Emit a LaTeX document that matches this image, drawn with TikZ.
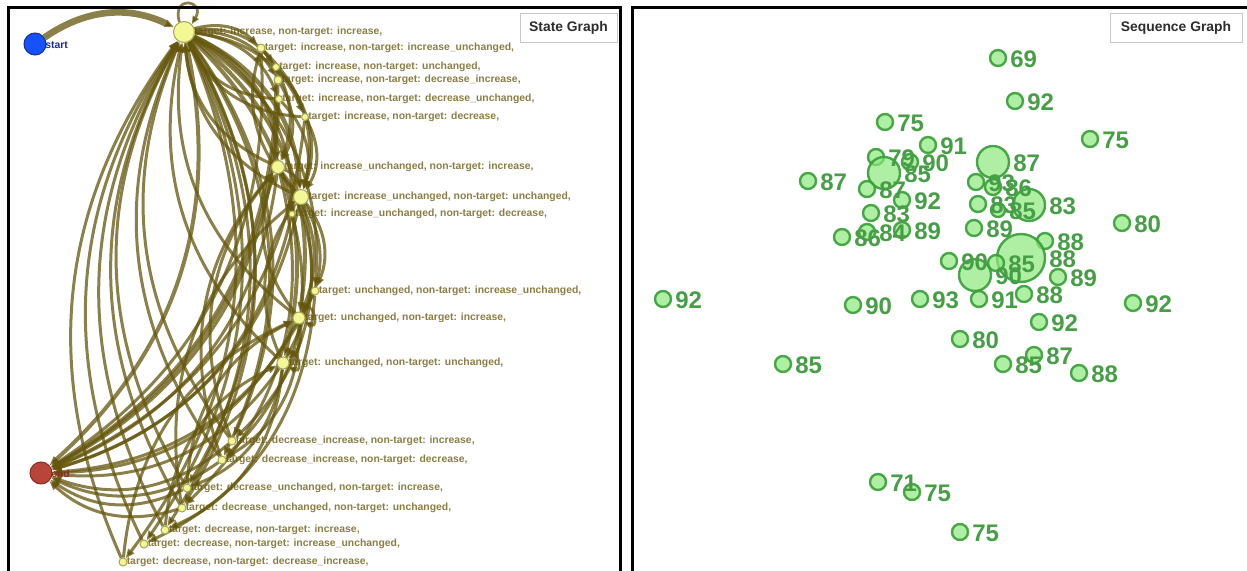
\documentclass[tikz,border=0pt]{standalone}
\usepackage{fontspec}
\setmainfont{Liberation Sans}
\usetikzlibrary{arrows.meta}
\usetikzlibrary{shadows}

\definecolor{edgeolive}{RGB}{100,86,12}
\definecolor{nodeyellow}{RGB}{243,247,150}
\definecolor{nodeline}{RGB}{165,165,80}
\definecolor{lbltext}{RGB}{138,126,70}
\definecolor{startblue}{RGB}{22,82,250}
\definecolor{startline}{RGB}{25,45,150}
\definecolor{stopred}{RGB}{185,68,58}
\definecolor{stopline}{RGB}{140,45,35}
\definecolor{seqfill}{RGB}{140,232,125}
\definecolor{seqline}{RGB}{55,158,55}
\definecolor{seqtext}{RGB}{70,158,70}
\definecolor{titletext}{RGB}{45,45,45}

\pgfdeclarelayer{textlayer}
\pgfdeclarelayer{edgelayer}
\pgfdeclarelayer{front}
\pgfsetlayers{textlayer,edgelayer,main,front}

\tikzset{
  panelframe/.style={line width=2.25pt, black},
  titlebox/.style={draw=black!22, fill=white, text=titletext, inner sep=0pt,
    font=\bfseries\fontsize{10.4}{12}\selectfont, minimum height=21.75pt,
    drop shadow={shadow xshift=0.8pt, shadow yshift=-0.8pt, opacity=0.25}},
  stnode/.style={circle, inner sep=0pt, minimum size=#1*1.5pt, draw=nodeline,
    fill=nodeyellow, line width=0.75pt},
  stlabel/.style={anchor=west, inner sep=0pt, text=lbltext,
    font=\bfseries\fontsize{7.8}{8}\selectfont},
  link/.style={draw=edgeolive, draw opacity=0.75, bend right=30,
    -{Triangle[length=7pt,width=5.5pt]}},
  loopedge/.style={draw=edgeolive, draw opacity=0.75, line width=2pt,
    -{Triangle[length=6pt,width=5pt]}},
  seqdot/.style={circle, inner sep=0pt, minimum size=#1*1.5pt, draw=seqline,
    draw opacity=0.9, line width=1.8pt, fill=seqfill, fill opacity=0.7},
  seqlabel/.style={anchor=west, inner sep=0pt, text=seqtext,
    font=\bfseries\fontsize{18}{18}\selectfont}
}

\begin{document}
\begin{tikzpicture}[x=0.75pt,y=0.75pt,yscale=-1,xscale=1]
\useasboundingbox (0,0) rectangle (1247,571);

% panels
\draw[panelframe] (8,590) -- (8,7) -- (620,7) -- (620,590);
\draw[panelframe] (632,590) -- (632,7) -- (1260,7) -- (1260,590);
\node[titlebox, minimum width=72.75pt] (state-title) at (568.5,27.5) {State Graph};
\node[titlebox, minimum width=99pt] (seq-title) at (1176,27.5) {Sequence Graph};

% state graph nodes
\node[stnode=11, fill=startblue, draw=startline] (start) at (35,44) {};
\node[stnode=11, fill=stopred, draw=stopline] (stop) at (41,473) {};
\begin{pgfonlayer}{front}
\node[stlabel, text=startline] (start-t) at (45,45) {start};
\node[stlabel, text=stopline] (stop-t) at (51,474) {end};
\end{pgfonlayer}
\foreach \n/\x/\y/\r/\t in {
  inc-inc/184/32/10.5/{target: increase, non-target: increase,},
  inc-incu/261/48/4/{target: increase, non-target: increase\_unchanged,},
  inc-unc/276/67/3.5/{target: increase, non-target: unchanged,},
  inc-deci/278/80/4/{target: increase, non-target: decrease\_increase,},
  inc-decu/279/99/3.5/{target: increase, non-target: decrease\_unchanged,},
  inc-dec/305/117/3.5/{target: increase, non-target: decrease,},
  incu-inc/278/167/6.5/{target: increase\_unchanged, non-target: increase,},
  incu-unc/301/197/7.5/{target: increase\_unchanged, non-target: unchanged,},
  incu-dec/292/214/3/{target: increase\_unchanged, non-target: decrease,},
  unc-incu/315/291/4/{target: unchanged, non-target: increase\_unchanged,},
  unc-inc/299/318/6/{target: unchanged, non-target: increase,},
  unc-unc/283/363/6/{target: unchanged, non-target: unchanged,},
  deci-inc/232/441/4/{target: decrease\_increase, non-target: increase,},
  deci-dec/222/460/4/{target: decrease\_increase, non-target: decrease,},
  decu-inc/187/488/4/{target: decrease\_unchanged, non-target: increase,},
  decu-unc/182/508/4/{target: decrease\_unchanged, non-target: unchanged,},
  dec-inc/165/530/4/{target: decrease, non-target: increase,},
  dec-incu/144/544/4/{target: decrease, non-target: increase\_unchanged,},
  dec-deci/123/562/4/{target: decrease, non-target: decrease\_increase,}}{
  \node[stnode=\r] (\n) at (\x,\y) {};
  \begin{pgfonlayer}{textlayer}
  \node[stlabel] (\n-t) at (\x+\r-0.5,\y) {\t};
  \end{pgfonlayer}
}

% transitions
\begin{pgfonlayer}{edgelayer}
\draw[link, line width=5pt] (start) to (inc-inc);
\draw[loopedge] (inc-inc.115) .. controls +(-8,-28) and +(14,-24) .. (inc-inc.45);
\draw[loopedge] (unc-inc.60) .. controls +(10,-18) and +(16,8) .. (unc-inc.-35);
\draw[loopedge] (unc-unc.60) .. controls +(10,-18) and +(16,8) .. (unc-unc.-35);
\foreach \a/\b/\w in {
  inc-inc/inc-incu/3, inc-inc/inc-unc/3, inc-inc/inc-deci/3, inc-inc/inc-decu/3,
  inc-inc/inc-dec/3, inc-inc/incu-inc/4.5, inc-inc/incu-unc/4.5, inc-inc/incu-dec/3,
  inc-inc/unc-incu/3, inc-inc/unc-inc/4, inc-inc/unc-unc/4, inc-inc/deci-inc/3,
  inc-inc/deci-dec/3, inc-inc/decu-inc/3, inc-inc/decu-unc/3, inc-inc/dec-inc/3,
  inc-inc/dec-incu/3, inc-inc/dec-deci/3, inc-inc/stop/4,
  dec-deci/inc-inc/3, dec-incu/inc-inc/3, dec-inc/inc-inc/3, decu-unc/inc-inc/3,
  decu-inc/inc-inc/3, deci-dec/inc-inc/3, deci-inc/inc-inc/3, unc-unc/inc-inc/3,
  unc-inc/inc-inc/3, incu-unc/inc-inc/3, incu-inc/inc-inc/3, inc-dec/inc-inc/3,
  inc-decu/inc-inc/3,
  inc-incu/stop/3, inc-unc/stop/3, inc-deci/stop/3, inc-decu/stop/3,
  inc-dec/stop/3, incu-inc/stop/3, incu-unc/stop/3,
  incu-dec/stop/3, unc-incu/stop/3, unc-inc/stop/3, unc-unc/stop/3,
  deci-inc/stop/3, deci-dec/stop/3, decu-inc/stop/3, decu-unc/stop/3,
  inc-incu/incu-inc/3, inc-incu/incu-unc/3, inc-unc/incu-unc/3, inc-deci/incu-inc/3,
  inc-decu/incu-unc/3, inc-dec/incu-unc/3, incu-inc/incu-unc/3, incu-unc/unc-incu/3,
  incu-unc/unc-inc/3, incu-inc/unc-inc/3, unc-inc/unc-unc/3, incu-inc/unc-unc/3,
  incu-unc/deci-inc/3, unc-inc/deci-dec/3, unc-unc/decu-inc/3, unc-unc/dec-inc/3,
  incu-inc/decu-unc/3, unc-incu/dec-incu/3, incu-dec/deci-dec/3,
  deci-inc/incu-inc/3, decu-inc/unc-inc/3, dec-inc/unc-unc/3, decu-unc/incu-unc/3,
  dec-deci/unc-inc/3, deci-dec/incu-inc/3, unc-unc/incu-unc/3, unc-inc/incu-inc/3,
  incu-unc/inc-incu/3}
  \draw[link, line width=\w*0.75pt] (\a) to (\b);
\end{pgfonlayer}

% sequence graph
\foreach \n/\x/\y/\r/\v in {
  q1/998/58/8/69, q2/1015/101/8/92, q3/885/122/8/75, q4/1090/139/8/75,
  q5/928/145/8/91, q6/876/157/8/79, q7/910/162/8/90, q8/884/173/16/85,
  q9/993/162/16/87, q10/808/181/8/87, q11/867/189/8/87, q12/976/182/8/93,
  q13/993/187/8/86, q14/902/200/8/92, q15/871/213/8/83, q16/978/204/8/83,
  q17/998/210/7/85, q18/1029/205/16/83, q19/842/237/8/86, q20/867/232/8/84,
  q21/902/230/8/89, q22/974/228/8/89, q23/1045/241/8/88, q24/1021/258/24/88,
  q25/949/261/8/90, q26/996/263/8/85, q27/975/275/16/90, q28/1058/277/8/89,
  q29/1024/294/8/88, q30/1039/322/8/92, q31/1034/355/8/87, q32/1003/364/8/85,
  q33/1079/373/8/88, q34/1122/223/8/80, q35/1133/303/8/92, q36/960/339/8/80,
  q37/920/299/8/93, q38/979/299/8/91, q39/853/305/8/90, q40/663/299/8/92,
  q41/783/364/8/85, q42/878/482/8/71, q43/912/492/8/75, q44/960/532/8/75}{
  \node[seqdot=\r] (\n) at (\x,\y) {};
  \begin{pgfonlayer}{front}
  \node[seqlabel] (\n-t) at (\x+\r+4,\y+1) {\v};
  \end{pgfonlayer}
}
\end{tikzpicture}
\end{document}
